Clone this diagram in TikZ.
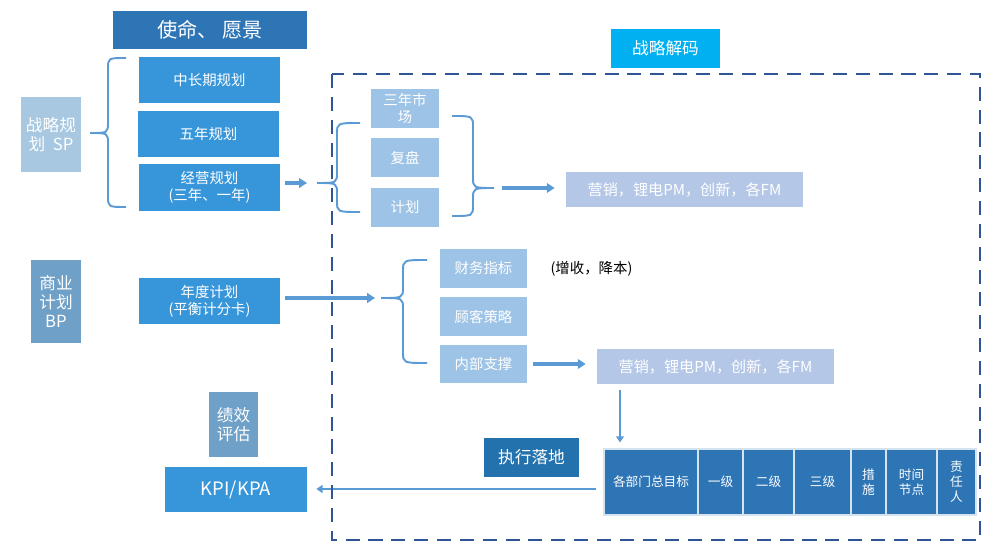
\documentclass[tikz,border=0pt]{standalone}
\usepackage{fontspec}
\setmainfont{Noto Sans CJK SC}
\usetikzlibrary{arrows.meta}

\definecolor{deepblue}{HTML}{2E75B6}
\definecolor{midblue}{HTML}{3796DA}
\definecolor{paleblue}{HTML}{A7C8E0}
\definecolor{steelblue}{HTML}{6FA0C8}
\definecolor{lightblue}{HTML}{9DC3E6}
\definecolor{lilacblue}{HTML}{B4C7E7}
\definecolor{cyanblue}{HTML}{00B0F0}
\definecolor{execblue}{HTML}{2372AE}
\definecolor{linkblue}{HTML}{5B9BD5}
\definecolor{frameblue}{HTML}{2F5597}

\tikzset{
  wh/.style 2 args={minimum width=#1*0.02cm, minimum height=#2*0.02cm},
  box/.style={inner sep=0pt, text=white, align=center, font=\fontsize{8.2}{9.6}\selectfont},
  bigtxt/.style={font=\fontsize{9.5}{10.8}\selectfont},
  cell/.style={box, fill=deepblue, draw=white!80!deepblue, line width=0.6pt, font=\fontsize{7.2}{8.5}\selectfont},
  brc/.style={draw=linkblue, line width=1.1pt},
  arr/.style={draw=linkblue, line width=2.2pt, -{Triangle[length=4.5pt,width=5.5pt]}},
  thinarr/.style={draw=linkblue, line width=1.5pt, -{Triangle[length=3.5pt,width=4.5pt]}},
  frame/.style={draw=frameblue, line width=1.4pt, dash pattern=on 8pt off 5pt},
}

% #1 end x, #2 stem x, #3 tip x, #4 top y, #5 tip y, #6 bottom y
\newcommand\curlybrace[6]{%
  \draw[brc] (#1,#4) .. controls (#2,#4) .. (#2,#4+11) -- (#2,#5-11)
    .. controls (#2,#5) .. (#3,#5) .. controls (#2,#5) .. (#2,#5+11)
    -- (#2,#6-11) .. controls (#2,#6) .. (#1,#6);}

\begin{document}
\begin{tikzpicture}[x=0.02cm, y=-0.02cm]
\useasboundingbox (0,0) rectangle (1000,560);

% left column: planning
\node[box, fill=deepblue, wh={194}{38}, font=\fontsize{11.5}{13}\selectfont] (vision) at (210,30) {使命、 愿景};
\node[box, bigtxt, fill=paleblue, wh={60}{75}] (sp) at (51,134.5) {战略规\\划~~SP};
\node[box, fill=midblue, wh={141}{46}] (p1) at (209.5,80) {中长期规划};
\node[box, fill=midblue, wh={141}{46}] (p2) at (208.5,134) {五年规划};
\node[box, fill=midblue, wh={141}{47}] (p3) at (209.5,187.5) {经营规划\\(三年、一年)};
\node[box, bigtxt, fill=steelblue, wh={50}{83}] (bp) at (56,301.5) {商业\\计划\\BP};
\node[box, fill=midblue, wh={141}{46}] (ap) at (209.5,301) {年度计划\\(平衡计分卡)};
\node[box, bigtxt, fill=steelblue, wh={49}{65}] (ev) at (233.5,424.5) {绩效\\评估};
\node[box, fill=midblue, wh={142}{45}, font=\fontsize{10.5}{12}\selectfont] (kpi) at (236,489.5) {KPI/KPA};

% strategy decoding
\node[box, bigtxt, fill=cyanblue, wh={109}{39}] (decode) at (665.5,48.5) {战略解码};
\node[box, fill=lightblue, wh={68}{39}] (d1) at (405,108.5) {三年市\\场};
\node[box, fill=lightblue, wh={68}{39}] (d2) at (405,157.5) {复盘};
\node[box, fill=lightblue, wh={68}{39}] (d3) at (405,207.5) {计划};
\node[box, fill=lilacblue, wh={237}{35}, font=\fontsize{8.6}{10}\selectfont] (m1) at (684.5,189.5) {营销，锂电PM，创新，各FM};
\node[box, fill=lightblue, wh={87}{39}] (f1) at (483.5,268.5) {财务指标};
\node[box, fill=lightblue, wh={87}{39}] (f2) at (483.5,316.5) {顾客策略};
\node[box, fill=lightblue, wh={87}{38}] (f3) at (483.5,364) {内部支撑};
\node[inner sep=0pt, font=\fontsize{8.2}{9.6}\selectfont] (note) at (591.5,269) {(增收，降本)};
\node[box, fill=lilacblue, wh={237}{35}, font=\fontsize{8.6}{10}\selectfont] (m2) at (715.5,366.5) {营销，锂电PM，创新，各FM};

% execution
\node[box, bigtxt, fill=execblue, wh={95}{39}] (exe) at (531.5,457.5) {执行落地};
\foreach \cx/\cw/\ct [count=\i] in {651/94/各部门总目标, 720.5/45/一级, 768.5/51/二级, 822.5/57/三级, 868.5/35/{措\\施}, 911.5/51/{时间\\节点}, 956.5/39/{责\\任\\人}}
  \node[cell, wh={\cw}{66}] (t\i) at (\cx,482) {\ct};

% braces
\coordinate (tipA) at (317,183);
\coordinate (tipB) at (494,188);
\coordinate (tipC) at (381,298);
\coordinate (drop) at (620,0);
\coordinate (back) at (0,489);
\curlybrace{126}{108}{90}{58}{133}{207}
\curlybrace{360}{337}{317}{123}{183}{212}
\curlybrace{452}{473}{494}{116}{188}{216}
\curlybrace{427}{403}{381}{260}{298}{363}

% arrows
\draw[arr, shorten <=0.1cm, shorten >=0.2cm] (p3.east |- tipA) -- (tipA);
\draw[arr, shorten <=0.1cm, shorten >=0.12cm] (ap.east |- tipC) -- (tipC);
\draw[arr, shorten <=0.16cm, shorten >=0.22cm] (tipB) -- (m1.west |- tipB);
\draw[arr, shorten <=0.12cm, shorten >=0.22cm] (f3.east) -- (m2.west |- f3.east);
\draw[thinarr, shorten <=0.12cm, shorten >=0.12cm] (m2.south -| drop) -- (t1.north -| drop);
\draw[thinarr, shorten <=0.14cm, shorten >=0.18cm] (t1.west |- back) -- (kpi.east |- back);

% dashed frame of the decoding area
\draw[frame] (332,74) rectangle (980,540);
\end{tikzpicture}
\end{document}
